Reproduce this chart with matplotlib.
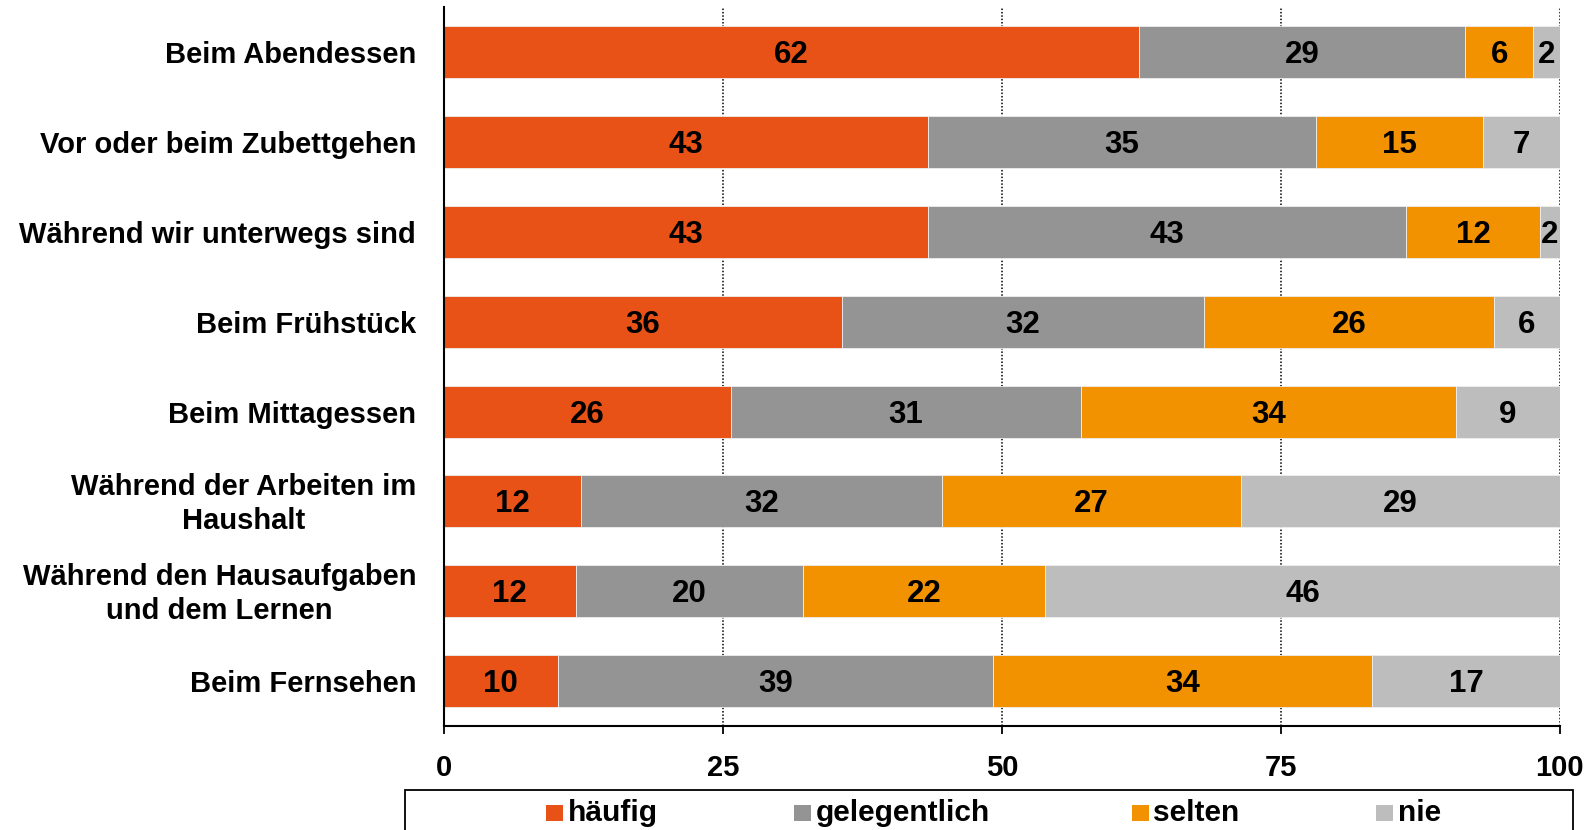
import matplotlib
matplotlib.use("Agg")
import matplotlib.pyplot as plt
from matplotlib import font_manager as fm
from matplotlib.patches import Rectangle

# Survey shares (percent) per situation, stacked from "häufig" to "nie"
categories = [
    "Beim Abendessen",
    "Vor oder beim Zubettgehen",
    "Während wir unterwegs sind",
    "Beim Frühstück",
    "Beim Mittagessen",
    "Während der Arbeiten im\nHaushalt",
    "Während den Hausaufgaben\nund dem Lernen",
    "Beim Fernsehen",
]
series_names = ["häufig", "gelegentlich", "selten", "nie"]
haeufig = [62.3, 43.4, 43.4, 35.7, 25.7, 12.3, 11.8, 10.2]
gelegentlich = [29.2, 34.7, 42.8, 32.4, 31.4, 32.3, 20.4, 39.0]
selten = [6.1, 15.0, 12.0, 26.0, 33.6, 26.8, 21.7, 34.0]
nie = [2.4, 6.9, 1.8, 5.9, 9.3, 28.6, 46.1, 16.8]
x_ticks = [0, 25, 50, 75, 100]

colors = ["#E85216", "#949494", "#F29200", "#BDBDBD"]

names = {f.name for f in fm.fontManager.ttflist}
NARROW = "Liberation Sans Narrow" if "Liberation Sans Narrow" in names else "Liberation Sans"
REGULAR = "Liberation Sans"

W, H = 1596, 830
fig = plt.figure(figsize=(W / 100, H / 100), dpi=100)
ax = fig.add_axes([0.2781, 0.1255, 0.9774 - 0.2781, 0.991 - 0.1255])

TEXT_DROP = -2.2  # points; labels sit slightly below the bar centre

ypos = list(range(len(categories)))
left = [0.0] * len(categories)
for name, vals, col in zip(series_names, [haeufig, gelegentlich, selten, nie], colors):
    cont = ax.barh(ypos, vals, left=left, height=0.58, color=col,
                   edgecolor="#EEEEEE", linewidth=0.6, label=name, zorder=2)
    anns = ax.bar_label(cont, labels=[f"{round(v)}" for v in vals], label_type="center",
                        fontsize=22.5, fontweight="bold", family=NARROW, color="black")
    for a in anns:
        a.xyann = (0, TEXT_DROP)
    left = [a + b for a, b in zip(left, vals)]

ax.set_xlim(0, 100)
ax.set_ylim(len(categories) - 0.5, -0.5)
ax.set_xticks(x_ticks)
ax.set_xticklabels([str(t) for t in x_ticks], fontsize=21,
                   fontweight="bold", family=NARROW)
ax.set_yticks(ypos)
ax.set_yticklabels([])

# Category names, right-aligned against the value axis
for y, cat in zip(ypos, categories):
    ax.annotate(cat, xy=(0, y), xycoords="data", xytext=(-20, TEXT_DROP),
                textcoords="offset points", ha="right", va="center",
                multialignment="center", linespacing=1.27,
                fontsize=21, fontweight="bold", family=REGULAR,
                annotation_clip=False)

ax.tick_params(axis="y", length=0)
ax.tick_params(axis="x", direction="out", length=6, width=1.3, pad=14, colors="black")

for t in x_ticks[1:]:
    ax.axvline(t, color="black", linestyle=(0, (1, 1.2)), linewidth=1.1, zorder=1)

for side in ["top", "right"]:
    ax.spines[side].set_visible(False)
for side in ["left", "bottom"]:
    ax.spines[side].set_linewidth(1.5)
    ax.spines[side].set_color("black")
ax.spines["left"].set_zorder(3)

# Legend box along the bottom edge, entries laid out by hand
fig.add_artist(Rectangle((405 / W, -0.05), (1573 - 405) / W, 0.05 + 0.0482,
                         transform=fig.transFigure, fill=False,
                         edgecolor="black", linewidth=1.3))
legend_x = [546, 794, 1132, 1376]
sq = 16.5
for xpx, name, col in zip(legend_x, series_names, colors):
    fig.add_artist(Rectangle((xpx / W, 1 - 821 / H), sq / W, sq / H,
                             transform=fig.transFigure, facecolor=col,
                             edgecolor="none"))
    fig.text((xpx + sq + 5) / W, 1 - 821 / H, name, ha="left", va="baseline",
             fontsize=21.5, fontweight="bold", family=NARROW)

fig.savefig("out.png", dpi=100)
